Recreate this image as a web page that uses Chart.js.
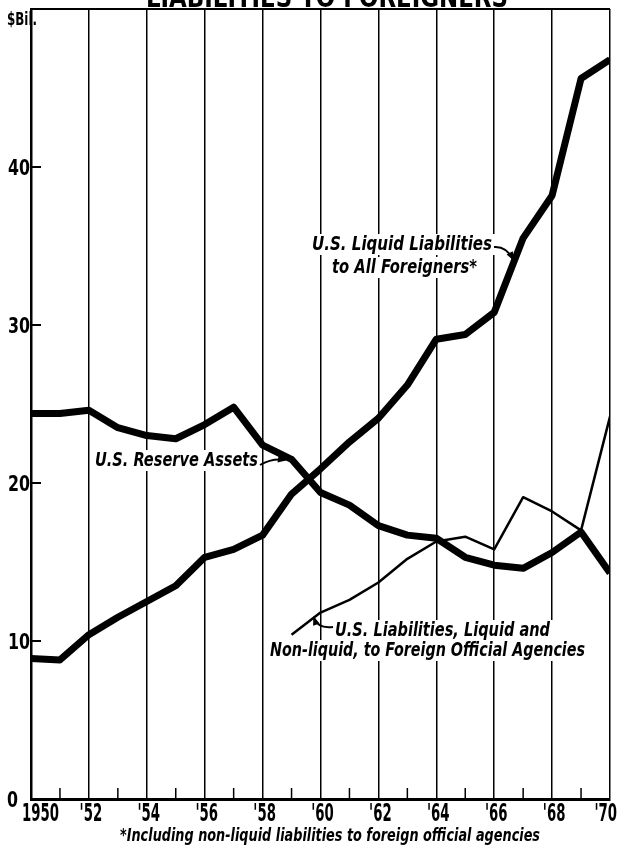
<!DOCTYPE html>
<html><head><meta charset="utf-8">
<script src="https://cdn.jsdelivr.net/npm/chart.js@4.4.1/dist/chart.umd.min.js"></script>
<style>html,body{margin:0;padding:0;background:#fff;}canvas{display:block;}</style>
</head><body>
<canvas id="c" width="619" height="845"></canvas>
<script>
// ---- data ----
const years = [1950,1951,1952,1953,1954,1955,1956,1957,1958,1959,1960,1961,1962,1963,1964,1965,1966,1967,1968,1969,1970];
const liquidLiabilitiesAll = [8.9,8.8,10.4,11.5,12.5,13.5,15.3,15.8,16.7,19.3,20.9,22.6,24.1,26.2,29.1,29.4,30.8,35.5,38.2,45.6,46.8];
const reserveAssets = [24.4,24.4,24.6,23.5,23.0,22.8,23.7,24.8,22.4,21.5,19.4,18.6,17.3,16.7,16.5,15.3,14.8,14.6,15.6,16.9,14.3];
const officialAgencyLiabilities = [null,null,null,null,null,null,null,null,null,10.4,11.8,12.6,13.7,15.2,16.3,16.6,15.8,19.1,18.2,17.0,24.2];
const xTickYears = [1950,1952,1954,1956,1958,1960,1962,1964,1966,1968,1970];
const xTickLabels = ['1950',"'52","'54","'56","'58","'60","'62","'64","'66","'68","'70"];
const yTickValues = [0,10,20,30,40];
const titleText = 'LIABILITIES TO FOREIGNERS';
const unitText = '$Bil.';
const footnoteText = '*Including non-liquid liabilities to foreign official agencies';

const FONT = '"Liberation Sans Narrow","DejaVu Sans Condensed","Arial Narrow",sans-serif';

function pts(arr){ return years.map((y,i)=>({x:y,y:arr[i]})); }

function fitText(ctx, text, x, baseline, width, font){
  ctx.save();
  ctx.font = font;
  const w = ctx.measureText(text).width;
  ctx.translate(x, baseline);
  ctx.scale(width / w, 1);
  ctx.textAlign = 'left';
  ctx.textBaseline = 'alphabetic';
  ctx.fillStyle = '#000';
  ctx.fillText(text, 0, 0);
  ctx.restore();
}
function scaledText(ctx, text, x, baseline, sx, font, align){
  ctx.save();
  ctx.font = font;
  const w = ctx.measureText(text).width * sx;
  let left = x;
  if (align === 'center') left = x - w/2;
  else if (align === 'right') left = x - w;
  ctx.translate(left, baseline);
  ctx.scale(sx, 1);
  ctx.textAlign = 'left';
  ctx.textBaseline = 'alphabetic';
  ctx.fillStyle = '#000';
  ctx.fillText(text, 0, 0);
  ctx.restore();
}
function arrow(ctx, x0, y0, cx, cy, x1, y1){
  ctx.save();
  ctx.strokeStyle = '#000'; ctx.fillStyle = '#000'; ctx.lineWidth = 2;
  ctx.beginPath(); ctx.moveTo(x0,y0); ctx.quadraticCurveTo(cx,cy,x1,y1); ctx.stroke();
  const a = Math.atan2(y1-cy, x1-cx);
  ctx.beginPath();
  ctx.moveTo(x1 + 2*Math.cos(a), y1 + 2*Math.sin(a));
  ctx.lineTo(x1 - 7*Math.cos(a) + 3.5*Math.sin(a), y1 - 7*Math.sin(a) - 3.5*Math.cos(a));
  ctx.lineTo(x1 - 7*Math.cos(a) - 3.5*Math.sin(a), y1 - 7*Math.sin(a) + 3.5*Math.cos(a));
  ctx.closePath(); ctx.fill();
  ctx.restore();
}

const annotations = [
  {text:'U.S. Liquid Liabilities', x:312, base:250, w:180, size:20},
  {text:'to All Foreigners*', x:332, base:273, w:145, size:20},
  {text:'U.S. Reserve Assets', x:95, base:466, w:163, size:20},
  {text:'U.S. Liabilities, Liquid and', x:335, base:636, w:215, size:20},
  {text:'Non-liquid, to Foreign Official Agencies', x:270, base:656, w:315, size:20}
];

const decor = {
  id:'decor',
  beforeDatasetsDraw(chart){
    const {ctx, chartArea:a, scales:{x, y}} = chart;
    ctx.save();
    // top frame line
    ctx.strokeStyle = '#000'; ctx.lineWidth = 2;
    ctx.beginPath(); ctx.moveTo(a.left, a.top); ctx.lineTo(a.right, a.top); ctx.stroke();
    // minor ticks at odd years
    ctx.lineWidth = 1.5;
    years.forEach(yr => {
      if (yr % 2 === 1){
        const px = x.getPixelForValue(yr);
        ctx.beginPath(); ctx.moveTo(px, a.bottom); ctx.lineTo(px, a.bottom - 11); ctx.stroke();
      }
    });
    // inside y ticks
    ctx.lineWidth = 2;
    yTickValues.slice(1).forEach(v => {
      const py = y.getPixelForValue(v);
      ctx.beginPath(); ctx.moveTo(a.left, py); ctx.lineTo(a.left + 10, py); ctx.stroke();
    });
    // white boxes behind annotation text
    ctx.fillStyle = '#fff';
    annotations.forEach(t => {
      ctx.fillRect(t.x - 3, t.base - t.size*0.8, t.w + 6, t.size*1.05);
    });
    ctx.restore();
  },
  afterDatasetsDraw(chart){
    const ctx = chart.ctx;
    annotations.forEach(t => fitText(ctx, t.text, t.x, t.base, t.w, `italic bold ${t.size}px ${FONT}`));
    arrow(ctx, 494, 247, 506, 246, 513, 259);
    arrow(ctx, 260, 465, 272, 458, 285, 460);
    arrow(ctx, 333, 627, 318, 629, 314, 618);
  },
  afterDraw(chart){
    const {ctx, chartArea:a, scales:{x, y}} = chart;
    // x tick labels (condensed)
    const xf = `bold 25px ${FONT}`;
    ctx.save(); ctx.font = xf;
    const sx = 37 / ctx.measureText('1950').width;
    ctx.restore();
    xTickYears.forEach((yr, i) => {
      const px = x.getPixelForValue(yr);
      const lab = xTickLabels[i];
      if (i === 0) scaledText(ctx, lab, px - 9, a.bottom + 22, sx, xf, 'left');
      else if (i === xTickYears.length - 1) scaledText(ctx, lab, px + 7, a.bottom + 22, sx, xf, 'right');
      else scaledText(ctx, lab, px + 2, a.bottom + 22, sx, xf, 'center');
    });
    // y tick labels (condensed)
    const yf = `bold 21px ${FONT}`;
    ctx.save(); ctx.font = yf;
    const sy = 22 / ctx.measureText('40').width;
    ctx.restore();
    yTickValues.forEach(v => {
      const py = y.getPixelForValue(v);
      const rx = v === 0 ? a.left - 13 : a.left - 1;
      scaledText(ctx, String(v), rx, py + 8, sy, yf, 'right');
    });
    fitText(ctx, titleText, 146, 7, 362, `bold 28px ${FONT}`);
    fitText(ctx, unitText, 7, 25, 30, `bold 17px ${FONT}`);
    fitText(ctx, footnoteText, 120, 841, 420, `italic bold 17px ${FONT}`);
  }
};

new Chart(document.getElementById('c'), {
  type:'line',
  data:{
    datasets:[
      {label:'U.S. Liquid Liabilities to All Foreigners', data:pts(liquidLiabilitiesAll), borderColor:'#000', borderWidth:7, pointRadius:0, tension:0, borderJoinStyle:'round', borderCapStyle:'butt'},
      {label:'U.S. Reserve Assets', data:pts(reserveAssets), borderColor:'#000', borderWidth:7, pointRadius:0, tension:0, borderJoinStyle:'round', borderCapStyle:'butt'},
      {label:'U.S. Liabilities to Foreign Official Agencies', data:pts(officialAgencyLiabilities), borderColor:'#000', borderWidth:2.5, pointRadius:0, tension:0, spanGaps:false, borderJoinStyle:'round'}
    ]
  },
  options:{
    responsive:false, animation:false, devicePixelRatio:1,
    layout:{padding:{top:9, right:9, left:0, bottom:0}},
    plugins:{legend:{display:false}, tooltip:{enabled:false}, title:{display:false}},
    scales:{
      x:{
        type:'linear', min:1950, max:1970,
        ticks:{display:false, stepSize:1, autoSkip:false, maxRotation:0, maxTicksLimit:30},
        grid:{drawTicks:false, lineWidth:1.5, color:(c)=> (c.tick && c.tick.value % 2 === 0) ? '#000' : 'rgba(0,0,0,0)'},
        border:{display:true, color:'#000', width:3},
        afterFit:(s)=>{ s.height = 46; s.paddingLeft = 0; s.paddingRight = 0; }
      },
      y:{
        min:0, max:50,
        ticks:{display:false, stepSize:10},
        grid:{display:false, drawTicks:false},
        border:{display:true, color:'#000', width:2.5},
        afterFit:(s)=>{ s.width = 31; s.paddingTop = 0; s.paddingBottom = 0; }
      }
    }
  },
  plugins:[decor]
});
</script>
</body></html>
